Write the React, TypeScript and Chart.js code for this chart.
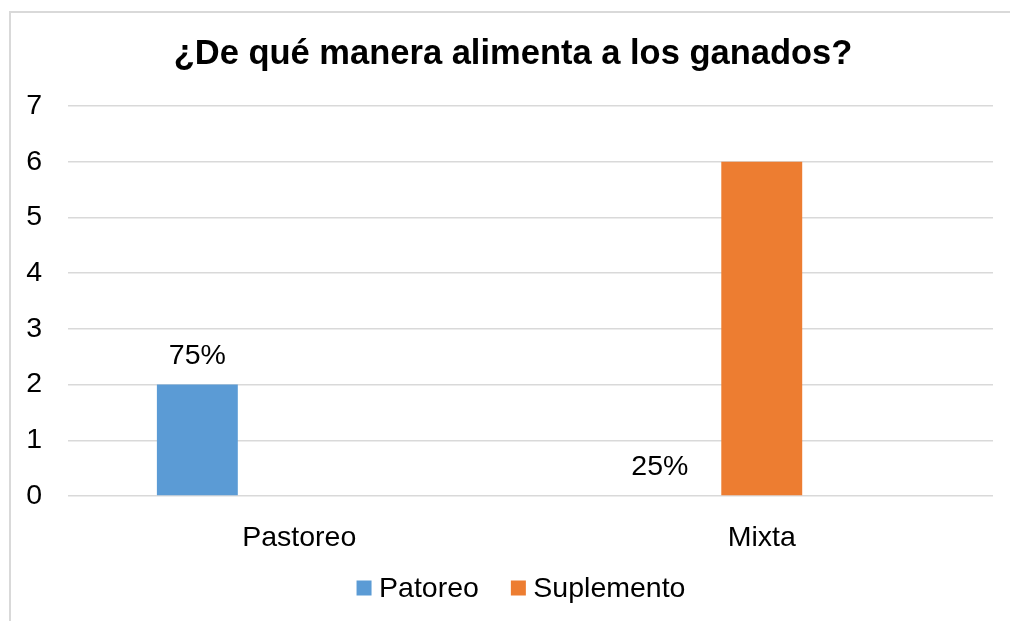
import React, { useEffect, useRef } from "react";
import { Chart, registerables } from "chart.js";

Chart.register(...registerables);

const chartTitle = "¿De qué manera alimenta a los ganados?";
const categories = ["Pastoreo", "Mixta"];
const seriesNames = ["Patoreo", "Suplemento"];
const patoreoValues = [2, 0];
const suplementoValues = [0, 6];
const patoreoLabels = ["75%", "25%"];
const seriesColors = ["#5B9BD5", "#ED7D31"];
const yMin = 0;
const yMax = 7;
const yStep = 1;

const FONT = "'Liberation Sans', Arial, sans-serif";
const TEXT_COLOR = "#000000";
const GRID_COLOR = "#D9D9D9";

const titlePlugin = {
  id: "customTitle",
  afterDraw(chart: any) {
    const ctx = chart.ctx;
    ctx.save();
    ctx.font = `bold 34.5px ${FONT}`;
    ctx.fillStyle = TEXT_COLOR;
    ctx.textAlign = "center";
    ctx.textBaseline = "middle";
    ctx.fillText(chartTitle, 513, 54);
    ctx.restore();
  },
};

const dataLabelPlugin = {
  id: "dataLabels",
  afterDatasetsDraw(chart: any) {
    const ctx = chart.ctx;
    const meta = chart.getDatasetMeta(0);
    ctx.save();
    ctx.font = `28.5px ${FONT}`;
    ctx.fillStyle = TEXT_COLOR;
    ctx.textAlign = "center";
    ctx.textBaseline = "middle";
    meta.data.forEach((el: any, i: number) => {
      const txt = patoreoLabels[i];
      if (!txt) return;
      ctx.fillText(txt, el.x, el.y - 28.5);
    });
    ctx.restore();
  },
};

const customLegendPlugin = {
  id: "customLegend",
  afterDraw(chart: any) {
    const ctx = chart.ctx;
    ctx.save();
    ctx.font = `28.5px ${FONT}`;
    ctx.textBaseline = "middle";
    ctx.textAlign = "left";
    const box = 15;
    const gapBoxText = 7.5;
    const gapItems = 32;
    const items = seriesNames.map((name, i) => ({
      name,
      color: chart.data.datasets[i].backgroundColor,
      w: box + gapBoxText + ctx.measureText(name).width,
    }));
    const total = items.reduce((s, it) => s + it.w, 0) + gapItems * (items.length - 1);
    const centerX = 521;
    const cy = 588;
    let x = centerX - total / 2;
    items.forEach((it) => {
      ctx.fillStyle = it.color;
      ctx.fillRect(x, cy - box / 2, box, box);
      ctx.fillStyle = TEXT_COLOR;
      ctx.fillText(it.name, x + box + gapBoxText, cy + 1);
      x += it.w + gapItems;
    });
    ctx.restore();
  },
};

function App() {
  const canvasRef = useRef<HTMLCanvasElement | null>(null);

  useEffect(() => {
    if (!canvasRef.current) return;
    Chart.defaults.font.family = FONT;
    const chart = new Chart(canvasRef.current, {
      type: "bar",
      data: {
        labels: categories,
        datasets: [
          {
            label: seriesNames[0],
            data: patoreoValues,
            backgroundColor: seriesColors[0],
          },
          {
            label: seriesNames[1],
            data: suplementoValues,
            backgroundColor: seriesColors[1],
          },
          {
            label: "",
            data: [null, null],
            backgroundColor: "rgba(0,0,0,0)",
          },
        ],
      },
      options: {
        responsive: false,
        animation: false,
        devicePixelRatio: 1,
        categoryPercentage: 0.661,
        barPercentage: 0.794,
        layout: { padding: { left: 0, right: 17, top: 106, bottom: 0 } },
        plugins: {
          legend: { display: false },
          tooltip: { enabled: false },
          title: { display: false },
        },
        scales: {
          x: {
            grid: { display: false },
            border: { display: false },
            ticks: {
              color: TEXT_COLOR,
              font: { size: 28.5, family: FONT },
              padding: 17.4,
            },
            afterFit(scale: any) {
              scale.height = 125;
            },
          },
          y: {
            min: yMin,
            max: yMax,
            grid: { color: GRID_COLOR, lineWidth: 1.5, drawTicks: false },
            border: { display: false },
            ticks: {
              stepSize: yStep,
              color: TEXT_COLOR,
              font: { size: 28.5, family: FONT },
              padding: 26,
            },
            afterFit(scale: any) {
              scale.width = 68;
            },
          },
        },
      },
      plugins: [titlePlugin, dataLabelPlugin, customLegendPlugin],
    } as any);
    return () => chart.destroy();
  }, []);

  return (
    <div
      style={{
        position: "fixed",
        left: 0,
        top: 0,
        width: 1010,
        height: 621,
        overflow: "hidden",
        background: "#ffffff",
      }}
    >
      <div
        style={{
          position: "absolute",
          left: 9,
          top: 11,
          width: 1020,
          height: 640,
          borderLeft: `2px solid ${GRID_COLOR}`,
          borderTop: `2px solid ${GRID_COLOR}`,
        }}
      />
      <canvas
        ref={canvasRef}
        width={1010}
        height={621}
        style={{ position: "absolute", left: 0, top: 0, width: 1010, height: 621 }}
      />
    </div>
  );
}

export default App;
